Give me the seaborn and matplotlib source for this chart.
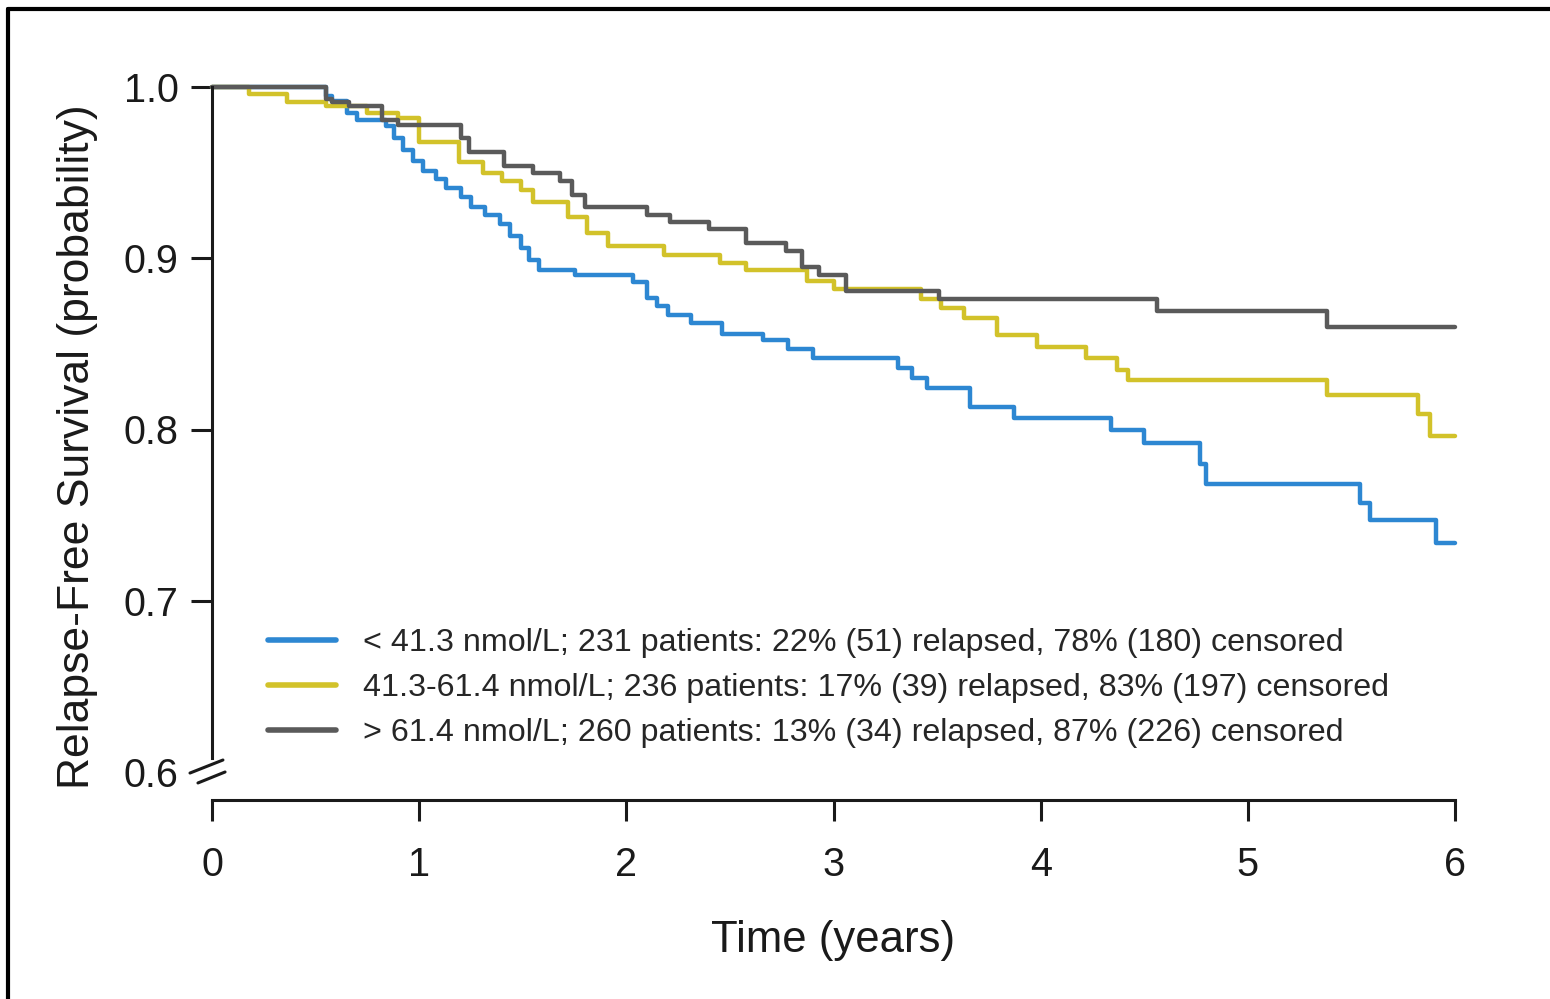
import numpy as np
import pandas as pd
import seaborn as sns
import matplotlib.pyplot as plt
from matplotlib.lines import Line2D

# Kaplan-Meier step points (time in years, survival probability)
times_low = [0, 0.55, 0.58, 0.65, 0.70, 0.84, 0.88, 0.92, 0.97, 1.02, 1.08, 1.13, 1.20, 1.25,
             1.32, 1.39, 1.44, 1.49, 1.53, 1.58, 1.75, 2.03, 2.10, 2.15, 2.20, 2.31, 2.46,
             2.66, 2.78, 2.90, 3.31, 3.38, 3.45, 3.66, 3.87, 4.34, 4.50, 4.77, 4.80, 5.54,
             5.59, 5.91, 6.0]
surv_low = [1.0, 0.995, 0.992, 0.985, 0.981, 0.977, 0.970, 0.963, 0.957, 0.951, 0.946, 0.941,
            0.936, 0.930, 0.925, 0.920, 0.913, 0.906, 0.899, 0.893, 0.890, 0.886, 0.877, 0.872,
            0.867, 0.862, 0.856, 0.852, 0.847, 0.842, 0.836, 0.830, 0.824, 0.813, 0.807, 0.800,
            0.792, 0.780, 0.768, 0.757, 0.747, 0.734, 0.734]

times_mid = [0, 0.18, 0.36, 0.55, 0.75, 0.90, 1.00, 1.19, 1.31, 1.40, 1.49, 1.55, 1.72, 1.81,
             1.91, 2.18, 2.45, 2.58, 2.87, 3.00, 3.42, 3.52, 3.63, 3.79, 3.98, 4.22, 4.37, 4.42,
             5.38, 5.82, 5.88, 6.0]
surv_mid = [1.0, 0.996, 0.991, 0.989, 0.985, 0.982, 0.968, 0.956, 0.950, 0.945, 0.940, 0.933,
            0.924, 0.915, 0.907, 0.902, 0.897, 0.893, 0.887, 0.882, 0.876, 0.871, 0.865, 0.855,
            0.848, 0.842, 0.835, 0.829, 0.820, 0.809, 0.796, 0.796]

times_high = [0, 0.55, 0.58, 0.66, 0.82, 0.90, 1.20, 1.24, 1.41, 1.55, 1.68, 1.74, 1.80, 2.10,
              2.21, 2.40, 2.58, 2.77, 2.85, 2.93, 3.06, 3.51, 4.56, 5.38, 6.0]
surv_high = [1.0, 0.993, 0.991, 0.989, 0.981, 0.978, 0.970, 0.962, 0.954, 0.950, 0.945, 0.937,
             0.930, 0.925, 0.921, 0.917, 0.909, 0.904, 0.895, 0.890, 0.881, 0.876, 0.869, 0.860,
             0.860]

groups = [
    "< 41.3 nmol/L; 231 patients: 22% (51) relapsed, 78% (180) censored",
    "41.3-61.4 nmol/L; 236 patients: 17% (39) relapsed, 83% (197) censored",
    "> 61.4 nmol/L; 260 patients: 13% (34) relapsed, 87% (226) censored",
]
colors = ["#2d87d2", "#d2c22a", "#5a5a5a"]
x_ticks = [0, 1, 2, 3, 4, 5, 6]
y_ticks = [0.6, 0.7, 0.8, 0.9, 1.0]

df = pd.concat([
    pd.DataFrame({"time": t, "surv": s, "group": g})
    for t, s, g in zip([times_low, times_mid, times_high],
                       [surv_low, surv_mid, surv_high], groups)
], ignore_index=True)

sns.set_style("ticks")
plt.rcParams["font.family"] = ["Liberation Sans", "DejaVu Sans"]

fig = plt.figure(figsize=(15.5, 9.99), dpi=100)
ax = fig.add_axes([212 / 1550, 1 - 772 / 999, 1243 / 1550, 685 / 999])

sns.lineplot(data=df, x="time", y="surv", hue="group", hue_order=groups,
             palette=colors, estimator=None, sort=False, drawstyle="steps-post",
             linewidth=3.2, ax=ax)
for ln in ax.lines:
    ln.set_clip_on(False)

ax.set_xlim(0, 6)
ax.set_ylim(0.6, 1.0)
ax.set_xticks(x_ticks)
ax.set_yticks(y_ticks)
ax.set_yticklabels([f"{v:.1f}" for v in y_ticks])

for side in ["top", "right"]:
    ax.spines[side].set_visible(False)
ax.spines["left"].set_bounds(0.608, 1.0)
ax.spines["bottom"].set_position(("outward", 20))
ax.spines["bottom"].set_bounds(0, 6)
for side in ["left", "bottom"]:
    ax.spines[side].set_linewidth(2.2)
    ax.spines[side].set_color("#1a1a1a")

ax.tick_params(axis="both", length=15, width=2.2, color="#1a1a1a",
               labelsize=28.5, labelcolor="#1a1a1a")
ax.tick_params(axis="x", pad=18)
ax.tick_params(axis="y", pad=9)
ax.yaxis.get_major_ticks()[0].tick1line.set_visible(False)

# axis break marks at the bottom of the y axis
for (x0, y0, x1, y1) in [(-0.0177, -0.0015, 0.0088, 0.0175), (-0.0113, -0.016, 0.0105, 0.0)]:
    ax.plot([x0, x1], [y0, y1], transform=ax.transAxes, color="#1a1a1a",
            linewidth=2.2, clip_on=False)

ax.set_xlabel("Time (years)", fontsize=31.5, labelpad=26, color="#1a1a1a")
ax.set_ylabel("Relapse-Free Survival (probability)", fontsize=32, color="#1a1a1a")
ax.yaxis.set_label_coords(-0.092, 0.475)

leg = ax.legend(loc="upper left", bbox_to_anchor=(0.035, 0.229), frameon=False,
                fontsize=23.2, handlelength=2.1, handletextpad=0.85, labelspacing=0.47,
                borderaxespad=0)
for h in leg.get_lines():
    h.set_linewidth(4)

# partial frame around the figure (left and top edges)
fig.add_artist(Line2D([8 / 1550, 8 / 1550], [0, 1 - 9 / 999], transform=fig.transFigure,
                      color="black", linewidth=3))
fig.add_artist(Line2D([8 / 1550, 1], [1 - 9 / 999, 1 - 9 / 999], transform=fig.transFigure,
                      color="black", linewidth=3))

fig.savefig("out.png", dpi=100)
